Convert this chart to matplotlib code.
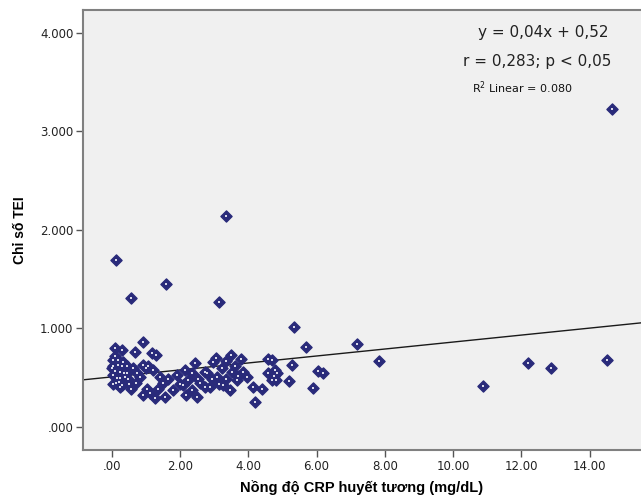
import numpy as np
import matplotlib
matplotlib.use("Agg")
import matplotlib.pyplot as plt

plt.rcParams['font.family'] = ['DejaVu Sans']

# CRP (mg/dL) vs TEI index
crp = [3.36, 0.14, 1.58, 0.56, 3.15, 14.65,
       12.18, 12.86, 14.5, 10.86, 7.82,
       5.34, 5.69, 7.17, 5.29, 6.05, 6.19, 5.19, 5.90, 4.68,
       4.75, 4.85, 4.80,
       3.05, 3.48, 3.80, 3.34, 4.58, 3.22, 3.51, 3.85, 3.07, 3.36, 3.66, 3.95,
       3.27, 3.46, 4.14, 4.39, 4.19, 4.58, 4.78, 4.68, 2.88,
       1.31, 2.44, 2.14, 2.73, 2.97, 1.41, 1.65, 1.90, 2.24, 2.53, 1.36, 1.56,
       1.80, 2.09, 2.34, 2.73, 2.49, 2.19, 2.93,
       0.92, 0.09, 0.29, 0.68, 1.17, 0.04, 0.34, 0.92, 0.00, 0.63, 1.22, 0.04,
       0.39, 0.83, 0.04, 0.24, 0.58, 1.02, 0.92, 1.26, 1.12, 0.48, 0.19, 0.24,
       0.10, 0.20, 0.15, 0.30, 0.10, 0.30, 0.45, 0.70, 1.00,
       0.05, 0.18, 0.25, 0.35, 0.12, 0.45, 0.50, 0.75, 1.05, 1.50, 2.00,
       2.60, 2.80, 3.60, 3.70, 3.15, 2.35]
tei = [2.145, 1.69, 1.448, 1.31, 1.27, 3.23,
       0.645, 0.597, 0.675, 0.414, 0.67,
       1.017, 0.807, 0.838, 0.634, 0.569, 0.543, 0.462, 0.40, 0.678,
       0.52, 0.55, 0.48,
       0.695, 0.73, 0.69, 0.668, 0.69, 0.594, 0.553, 0.56, 0.508, 0.49, 0.475, 0.508,
       0.424, 0.373, 0.407, 0.39, 0.254, 0.543, 0.576, 0.475, 0.407,
       0.73, 0.645, 0.576, 0.56, 0.66, 0.508, 0.49, 0.526, 0.475, 0.49, 0.39, 0.305,
       0.373, 0.424, 0.373, 0.407, 0.305, 0.322, 0.49,
       0.864, 0.797, 0.78, 0.763, 0.746, 0.678, 0.661, 0.627, 0.594, 0.594, 0.576, 0.526,
       0.508, 0.508, 0.441, 0.407, 0.39, 0.39, 0.322, 0.289, 0.34, 0.49, 0.627, 0.56,
       0.72, 0.46, 0.50, 0.43, 0.57, 0.62, 0.55, 0.45, 0.60,
       0.62, 0.68, 0.50, 0.55, 0.45, 0.62, 0.44, 0.55, 0.62, 0.45, 0.44,
       0.45, 0.55, 0.62, 0.52, 0.44, 0.55]

# fit line as drawn in the picture
slope = 0.0354
intercept = 0.508

xticks = [0, 2, 4, 6, 8, 10, 12, 14]
xticklabels = [".00", "2.00", "4.00", "6.00", "8.00", "10.00", "12.00", "14.00"]
yticks = [0, 1, 2, 3, 4]
yticklabels = [".000", "1.000", "2.000", "3.000", "4.000"]

fig = plt.figure(figsize=(6.41, 4.95), dpi=100)
ax = fig.add_axes([83/641, 45/495, 1 - 83/641, 440/495])
ax.set_facecolor("#f0f0f0")

navy = "#292a7a"
ax.scatter(crp, tei, marker="D", s=32, facecolor=navy, edgecolor=navy,
           linewidth=1.0, zorder=3)
ax.scatter(crp, tei, marker="s", s=1.2, color="#d8d8e8", linewidth=0, zorder=4)

xl = np.array([-0.84, 15.5])
ax.plot(xl, intercept + slope * xl, color="#1a1a1a", lw=1.0, zorder=2)

ax.set_xlim(-0.84, 15.5)
ax.set_ylim(-0.234, 4.233)
ax.set_xticks(xticks)
ax.set_xticklabels(xticklabels)
ax.set_yticks(yticks)
ax.set_yticklabels(yticklabels)
ax.tick_params(axis="both", labelsize=8.5, color="#555555", length=5, width=1,
               labelcolor="#222222", direction="out", pad=2)

for s in ["top", "left", "bottom"]:
    ax.spines[s].set_color("#808080")
    ax.spines[s].set_linewidth(1.5)
ax.spines["right"].set_visible(False)

ax.set_xlabel("Nồng độ CRP huyết tương (mg/dL)", fontsize=10.5, fontweight="bold",
              labelpad=5, family="Liberation Sans")
ax.set_ylabel("Chỉ số TEI", fontsize=10, fontweight="bold", labelpad=9,
              family="Liberation Sans")

ax.text(0.824, 0.948, "y = 0,04x + 0,52", transform=ax.transAxes, fontsize=11,
        ha="center", va="center", color="#222222")
ax.text(0.814, 0.884, "r = 0,283; p < 0,05", transform=ax.transAxes, fontsize=11,
        ha="center", va="center", color="#222222")
ax.text(0.697, 0.823, "R$^2$ Linear = 0.080", transform=ax.transAxes, fontsize=8,
        ha="left", va="center", color="#111111")

fig.savefig("out.png", dpi=100)
